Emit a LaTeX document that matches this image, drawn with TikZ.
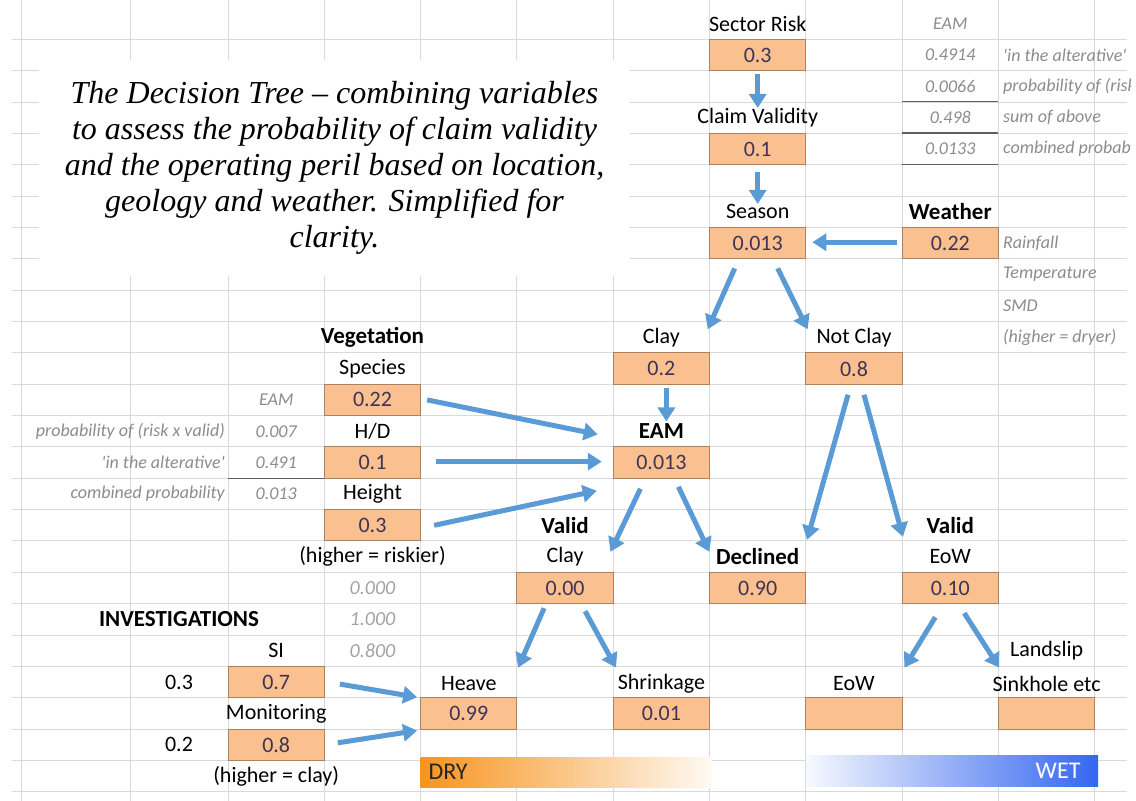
\documentclass[tikz,border=0pt]{standalone}
\usepackage{fontspec}
\setmainfont{Carlito}
\newfontfamily\titlefont{Liberation Serif}
\usepackage{xcolor}
\usepackage{tikz}
\usetikzlibrary{positioning,calc,arrows.meta}

\definecolor{gridgray}{RGB}{217,217,217}
\definecolor{rulegray}{RGB}{95,95,95}
\definecolor{boxfill}{RGB}{250,192,144}
\definecolor{boxline}{RGB}{170,130,95}
\definecolor{boxtext}{RGB}{64,52,84}
\definecolor{handgray}{RGB}{140,140,140}
\definecolor{flowblue}{RGB}{91,155,213}
\definecolor{dryorange}{RGB}{247,148,30}
\definecolor{wetblue}{RGB}{52,102,240}

\newcommand{\cellfont}{\fontsize{22}{24}\selectfont}
\newcommand{\headfont}{\fontsize{23}{25}\selectfont\bfseries}
\newcommand{\handfont}{\fontsize{18}{20}\selectfont\itshape}

\tikzset{
    cell/.style={minimum width=96.3pt, minimum height=31.35pt, inner sep=0pt, font=\cellfont},
    valbox/.style={cell, draw=boxline, fill=boxfill, text=boxtext, line width=1pt},
    head/.style={cell, font=\headfont},
    hand/.style={inner sep=1pt, font=\handfont, text=handgray},
    darkrule/.style={rulegray, line width=1.5pt},
    flow/.style={draw=flowblue, line width=5pt, -{Triangle[width=17pt,length=14pt]}},
}

\begin{document}
\begin{tikzpicture}[x=1pt, y=-1pt]
    \useasboundingbox (0,0) rectangle (1136,801);
    \fill[white] (0,0) rectangle (1136,801);

    % Sheet grid
    \foreach \k in {1,...,25}
        \draw[gridgray, line width=1pt] (12,{8+31.35*\k}) -- (1127,{8+31.35*\k});
    \foreach \x in {21,130,228,324.3,420.6,516.9,613.2,709.5,805.8,902.1,998.4,1094.7}
        \draw[gridgray, line width=1pt] (\x,0) -- (\x,801);

    % Title
    \fill[white] (39,60) rectangle (630,276);
    \node[font=\titlefont\itshape\fontsize{32}{36}\selectfont, align=center] (title) at (334.5,168)
        {The Decision Tree – combining variables\\to assess the probability of claim validity\\and the operating peril based on location,\\geology and weather. Simplified for\\clarity.};

    % Main stem
    \node[cell] (sectorlbl) at (757.7,23.7) {Sector Risk};
    \node[valbox] (sector) at (757.7,55.0) {0.3};
    \node[cell] (claimlbl) at (757.7,117.8) {Claim Validity};
    \node[valbox] (claim) at (757.7,149.1) {0.1};
    \node[cell] (seasonlbl) at (757.7,211.8) {Season};
    \node[valbox] (season) at (757.7,243.2) {0.013};
    \node[head] (weatherlbl) at (950.3,211.8) {Weather};
    \node[valbox] (weather) at (950.3,243.2) {0.22};

    % EAM table, top right
    \node[hand] (eamtop) at (950.3,23.7) {EAM};
    \node[hand] (altval1) at (950.3,55.0) {0.4914};
    \node[hand] (probval1) at (950.3,86.4) {0.0066};
    \node[hand] (sumval1) at (950.3,117.8) {0.498};
    \node[hand] (combval1) at (950.3,149.1) {0.0133};
    \draw[darkrule] (902.1,101.7) -- (998.4,101.7);
    \draw[darkrule] (902.1,133.1) -- (998.4,133.1);
    \draw[darkrule] (902.1,164.4) -- (998.4,164.4);
    \begin{scope}
        \clip (998.4,0) rectangle (1130,801);
        \node[hand, anchor=west] (alttxt1) at (1002,55.0) {\textquotesingle in the alterative\textquotesingle};
        \node[hand, anchor=west] (probtxt1) at (1002,86.4) {probability of (risk x valid)};
        \node[hand, anchor=west] (sumtxt1) at (1002,117.8) {sum of above};
        \node[hand, anchor=west] (combtxt1) at (1002,149.1) {combined probability};
    \end{scope}

    % Weather notes
    \node[hand, anchor=west] (rain) at (1002,243.2) {Rainfall};
    \node[hand, anchor=west] (temp) at (1002,274.5) {Temperature};
    \node[hand, anchor=west] (smd) at (1002,305.9) {SMD};
    \node[hand, anchor=west] (dryer) at (1002,337.2) {(higher = dryer)};

    % Clay / Not Clay
    \node[cell] (claylbl) at (661.4,337.2) {Clay};
    \node[valbox] (clay) at (661.4,368.6) {0.2};
    \node[cell] (notclaylbl) at (854.0,337.2) {Not Clay};
    \node[valbox] (notclay) at (854.0,368.6) {0.8};

    % Vegetation
    \node[head] (veglbl) at (372.5,337.2) {Vegetation};
    \node[cell] (specieslbl) at (372.5,368.6) {Species};
    \node[valbox] (species) at (372.5,399.9) {0.22};
    \node[cell] (hdlbl) at (372.5,431.3) {H/D};
    \node[valbox] (hd) at (372.5,462.6) {0.1};
    \node[cell] (heightlbl) at (372.5,494.0) {Height};
    \node[valbox] (height) at (372.5,525.3) {0.3};
    \node[cell] (riskier) at (372.5,556.7) {(higher = riskier)};

    % EAM table, left
    \node[hand] (eamleft) at (276.2,399.9) {EAM};
    \node[hand, anchor=east] (probtxt2) at (226,431.3) {probability of (risk x valid)};
    \node[hand] (probval2) at (276.2,431.3) {0.007};
    \node[hand, anchor=east] (alttxt2) at (226,462.6) {\textquotesingle in the alterative\textquotesingle};
    \node[hand] (altval2) at (276.2,462.6) {0.491};
    \node[hand, anchor=east] (combtxt2) at (226,494.0) {combined probability};
    \node[hand] (combval2) at (276.2,494.0) {0.013};
    \draw[darkrule] (228,478.7) -- (324.3,478.7);

    % EAM
    \node[head] (eamlbl) at (661.4,431.3) {EAM};
    \node[valbox] (eam) at (661.4,462.6) {0.013};

    % Outcomes
    \node[head] (valid1) at (565.1,525.3) {Valid};
    \node[cell] (vclaylbl) at (565.1,556.7) {Clay};
    \node[valbox] (vclay) at (565.1,588.0) {0.00};
    \node[head] (decllbl) at (757.7,556.7) {Declined};
    \node[valbox] (decl) at (757.7,588.0) {0.90};
    \node[head] (valid2) at (950.3,525.3) {Valid};
    \node[cell] (veowlbl) at (950.3,556.7) {EoW};
    \node[valbox] (veow) at (950.3,588.0) {0.10};

    \node[hand, font=\fontsize{20}{22}\selectfont\itshape, text=handgray!80] (num1) at (372.5,588.0) {0.000};
    \node[hand, font=\fontsize{20}{22}\selectfont\itshape, text=handgray!80] (num2) at (372.5,619.4) {1.000};
    \node[hand, font=\fontsize{20}{22}\selectfont\itshape, text=handgray!80] (num3) at (372.5,650.7) {0.800};

    % Investigations
    \node[head] (invest) at (179,619.4) {INVESTIGATIONS};
    \node[cell] (silbl) at (276.2,650.7) {SI};
    \node[cell] (siwt) at (179,682.1) {0.3};
    \node[valbox] (si) at (276.2,682.1) {0.7};
    \node[cell] (monlbl) at (276.2,713.4) {Monitoring};
    \node[cell] (monwt) at (179,744.8) {0.2};
    \node[valbox] (mon) at (276.2,744.8) {0.8};
    \node[cell] (clayhint) at (276.2,776.1) {(higher = clay)};

    % Leaves
    \node[cell] (heavelbl) at (468.8,683.5) {Heave};
    \node[valbox] (heave) at (468.8,713.4) {0.99};
    \node[cell] (shrinklbl) at (661.4,683.5) {Shrinkage};
    \node[valbox] (shrink) at (661.4,713.4) {0.01};
    \node[cell] (eowlbl) at (854.0,683.5) {EoW};
    \node[valbox] (eow) at (854.0,713.4) {};
    \node[cell] (landslip) at (1046.6,650.7) {Landslip};
    \node[cell] (sinklbl) at (1046.6,683.5) {Sinkhole etc};
    \node[valbox] (sink) at (1046.6,713.4) {};

    % Dry / wet bars
    \shade[left color=dryorange, right color=dryorange!5] (420.6,757) rectangle (712,787);
    \node[anchor=west, font=\fontsize{24}{26}\selectfont, text=black!85] (dry) at (425,772) {DRY};
    \shade[left color=wetblue!4, right color=wetblue] (805.8,755) rectangle (1098,786);
    \node[anchor=east, font=\fontsize{24}{26}\selectfont, text=white] (wet) at (1084,771) {WET};

    % Arrows
    \draw[flow] ($(sector.south)+(0,3)$) -- ($(claimlbl.north)+(0,6)$);
    \draw[flow] ($(claim.south)+(0,7)$) -- ($(seasonlbl.north)+(0,8)$);
    \draw[flow] ($(weather.west)+(-5,-1)$) -- ($(season.east)+(6,-1)$);
    \draw[flow] ($(season.south)+(-23,9)$) -- ($(claylbl.north east)+(-2,8)$);
    \draw[flow] ($(season.south)+(20,9)$) -- ($(notclaylbl.north west)+(2,8)$);
    \draw[flow] ($(clay.south)+(5,3)$) -- ($(eamlbl.north)+(5,6)$);
    \draw[flow] ($(species.east)+(6,0)$) -- ($(eam.north west)+(-15,-12)$);
    \draw[flow] ($(hd.east)+(15,-1)$) -- ($(eam.west)+(-11,-1)$);
    \draw[flow] ($(height.east)+(13,0)$) -- ($(eam.south west)+(-16,12)$);
    \draw[flow] ($(eam.south)+(-21,10)$) -- ($(vclaylbl.north east)+(-3,11)$);
    \draw[flow] ($(eam.south)+(17,8)$) -- ($(decllbl.north west)+(0,11)$);
    \draw[flow] ($(notclay.south)+(-6,10)$) -- ($(decllbl.north east)+(1,-1)$);
    \draw[flow] ($(notclay.south)+(10,10)$) -- ($(veowlbl.north west)+(1,-4)$);
    \draw[flow] ($(vclay.south)+(-21,4)$) -- ($(heavelbl.north east)+(1,0)$);
    \draw[flow] ($(vclay.south)+(20,7)$) -- ($(shrinklbl.north west)+(3,0)$);
    \draw[flow] ($(veow.south)+(-15,13)$) -- ($(eowlbl.north east)+(2,0)$);
    \draw[flow] ($(veow.south)+(14,9)$) -- ($(landslip.south west)+(1,1)$);
    \draw[flow] ($(si.east)+(15,2)$) -- ($(heave.north west)+(-3,0)$);
    \draw[flow] ($(mon.east)+(13,-2)$) -- ($(heave.south west)+(-3,1)$);
\end{tikzpicture}
\end{document}
